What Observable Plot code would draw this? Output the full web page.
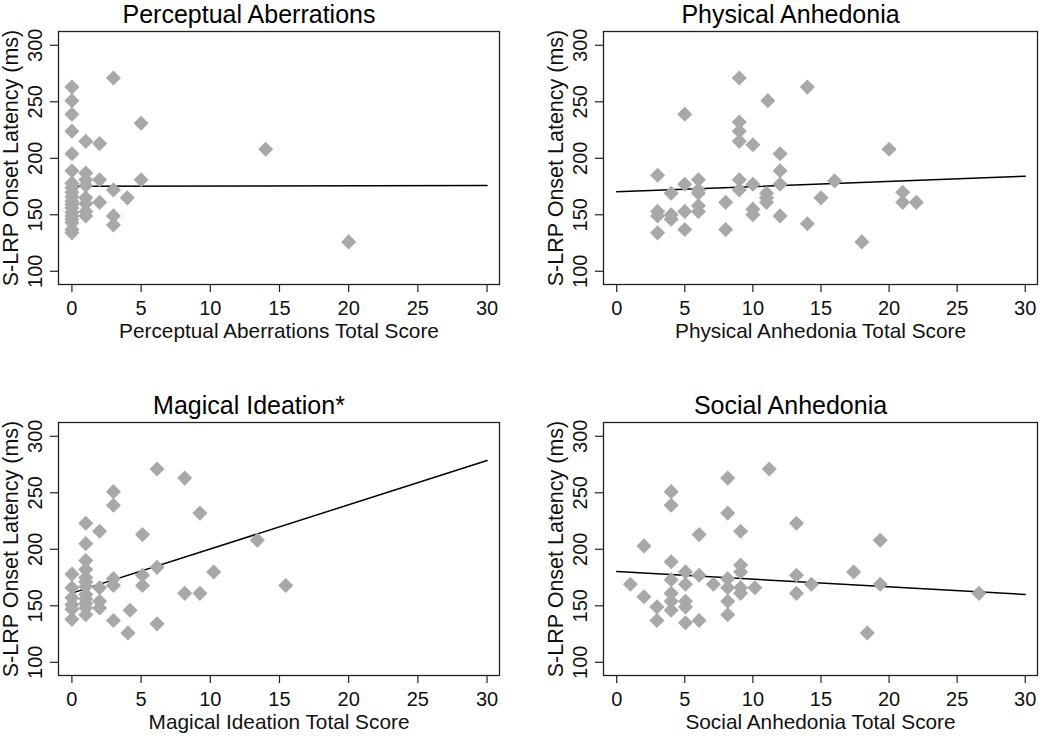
<!DOCTYPE html>
<html><head><meta charset="utf-8">
<script src="https://cdn.jsdelivr.net/npm/d3@7"></script>
<script src="https://cdn.jsdelivr.net/npm/@observablehq/plot@0.6"></script>
<style>
html,body{margin:0;padding:0;background:#fff;}
#chart{position:relative;width:1050px;height:736px;background:#fff;}
#chart > .panel{position:absolute;}
</style></head><body><div id="chart"></div>
<script>
// ---- tick values and labels ----
const xTicks = [0, 5, 10, 15, 20, 25, 30];
const yTicks = [100, 150, 200, 250, 300];
const panelTitles = ["Perceptual Aberrations", "Physical Anhedonia", "Magical Ideation*", "Social Anhedonia"];
const xLabels = ["Perceptual Aberrations Total Score", "Physical Anhedonia Total Score", "Magical Ideation Total Score", "Social Anhedonia Total Score"];
const yLabel = "S-LRP Onset Latency (ms)";

// ---- Perceptual Aberrations ----
const paScore   = [0,0,0,0,0,0,0,0,0,0,0,0,0,0,0,0,0,0,0,
                   1,1,1,1,1,1,1,1, 2,2,2, 3,3,3,3, 4, 5,5, 14, 20];
const paLatency = [263,251,239,224,204,189,178,174,170,166,162,159,156,152,149,146,143,137,134,
                   215,187,181,176,165,160,153,149, 213,181,161, 271,172,149,141, 165, 231,181, 208, 126];

// ---- Physical Anhedonia ----
const phScore   = [3,3,3,3, 4,4,4, 5,5,5,5, 6,6,6,6,6, 8,8, 9,9,9,9,9,9,
                   10,10,10,10, 11.1,11,11,11, 12,12,12,12, 14,14, 15, 16, 18, 20, 21,21, 22];
const phLatency = [185,153,149,134, 169,150,146, 239,177,153,137, 181,172,169,158,153, 161,137, 271,232,224,215,181,172,
                   212,177,155,150, 251,169,165,161, 204,189,177,149, 263,142, 165, 180, 126, 208, 170,161, 161];

// ---- Magical Ideation ----
const miScore   = [0,0,0,0,0,0, 1,1,1,1,1,1,1,1,1,1,1,1, 2,2,2,2, 3,3,3,3,3, 4.2,4.05,
                   5.1,5.1,5.1, 6.15,6.15,6.15, 8.15,8.15, 9.25,9.25, 10.25, 13.4, 15.45];
const miLatency = [178,166,157,151,147,138, 223,205,190,182,175,171,167,160,156,152,148,142, 216,166,154,148, 251,239,174,168,137, 146,126,
                   213,177,168, 271,184,134, 263,161, 232,161, 180, 208, 168];

// ---- Social Anhedonia ----
const saScore   = [1, 2,2, 2.95,2.95, 4,4,4,4,4,4,4, 5.05,5.05,5.05,5.05,5.05, 6.05,6.05,6.05, 7.1,
                   8.15,8.15,8.15,8.15,8.15,8.15, 9.1,9.1,9.1,9.1,9.1, 10.15, 11.2, 13.2,13.2,13.2, 14.3, 17.4, 18.4, 19.35,19.35, 26.6];
const saLatency = [169, 203,158, 149,137, 251,239,189,173,161,154,146, 180,169,154,149,135, 213,177,137, 169,
                   263,232,174,166,154,142, 216,186,180,166,161, 166, 271, 223,177,161, 169, 180, 126, 208,169, 161];

// ---- fitted regression lines (value at score 0 and score 30) ----
const fitScore = [0, 30];
const fitPA = [175.3, 175.9];
const fitPH = [170.3, 184.2];
const fitMI = [161.2, 278.5];
const fitSA = [180.3, 160.0];

const panelsData = [
  {x: paScore, y: paLatency, fit: fitPA},
  {x: phScore, y: phLatency, fit: fitPH},
  {x: miScore, y: miLatency, fit: fitMI},
  {x: saScore, y: saLatency, fit: fitSA}
];
const layout = [
  {left: 0,   top: 0,   ml: 58, mr: 26, mt: 31, mb: 84},
  {left: 525, top: 0,   ml: 78, mr: 13, mt: 31, mb: 84},
  {left: 0,   top: 368, ml: 58, mr: 26, mt: 54, mb: 61},
  {left: 525, top: 368, ml: 78, mr: 13, mt: 54, mb: 61}
];

const FONT = "'Liberation Sans', Arial, Helvetica, sans-serif";
const chart = document.getElementById("chart");

panelsData.forEach((pd, i) => {
  const L = layout[i];
  const pts = pd.x.map((s, j) => ({score: s, latency: pd.y[j]}));
  const fit = fitScore.map((s, j) => ({score: s, latency: pd.fit[j]}));
  const svg = Plot.plot({
    width: 525,
    height: 368,
    marginLeft: L.ml, marginRight: L.mr, marginTop: L.mt, marginBottom: L.mb,
    style: {fontFamily: FONT, fontSize: "20px", color: "#111", background: "transparent", overflow: "visible"},
    x: {domain: [-0.97, 30.9]},
    y: {domain: [88.3, 312.2]},
    marks: [
      Plot.axisX(xTicks, {tickSize: 8, tickPadding: 8, label: null, fontSize: 20, stroke: "#222", strokeWidth: 1.2}),
      Plot.axisX([], {tickSize: 0, label: xLabels[i], labelAnchor: "center", labelOffset: 53, labelArrow: "none", fontSize: 20.8}),
      Plot.axisY(yTicks, {tickSize: 8, tickPadding: 9, tickRotate: -90, label: null, fontSize: 20, stroke: "#222", strokeWidth: 1.2}),
      Plot.axisY([], {tickSize: 0, label: yLabel, labelAnchor: "center", labelOffset: 56, labelArrow: "none", fontSize: 21.5}),
      Plot.line(fit, {x: "score", y: "latency", stroke: "#000", strokeWidth: 1.5}),
      Plot.dot(pts, {x: "score", y: "latency", symbol: "diamond2", r: 6.8, fill: "#a8a8a8", stroke: "none"}),
      Plot.frame({stroke: "#222", strokeWidth: 1.3}),
      Plot.text([panelTitles[i]], {frameAnchor: "top", dx: -30, dy: -8.5, lineAnchor: "bottom", fontSize: 25, fill: "#000", text: d => d})
    ]
  });
  const wrap = document.createElement("div");
  wrap.className = "panel";
  wrap.style.left = L.left + "px";
  wrap.style.top = L.top + "px";
  wrap.appendChild(svg);
  chart.appendChild(wrap);
});
</script></body></html>
